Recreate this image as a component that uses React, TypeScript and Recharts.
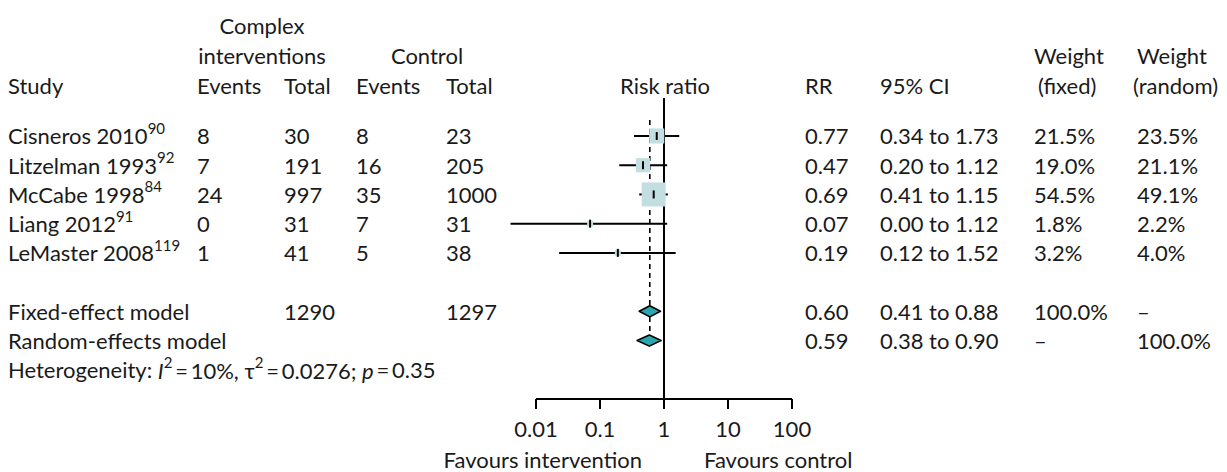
import React from 'react'
import { ComposedChart, XAxis, YAxis, Scatter, ErrorBar, ReferenceLine, ReferenceArea } from 'recharts'

// study level data
const studies = ['Cisneros 2010', 'Litzelman 1993', 'McCabe 1998', 'Liang 2012', 'LeMaster 2008']
const refs = ['90', '92', '84', '91', '119']
const intEvents = [8, 7, 24, 0, 1]
const intTotal = [30, 191, 997, 31, 41]
const ctlEvents = [8, 16, 35, 7, 5]
const ctlTotal = [23, 205, 1000, 31, 38]
const rr = [0.77, 0.47, 0.69, 0.07, 0.19]
const ciLow = ['0.34', '0.20', '0.41', '0.00', '0.12']
const ciHigh = [1.73, 1.12, 1.15, 1.12, 1.52]
// lower ends of the whiskers as they are drawn in the figure
const drawnLow = [0.34, 0.2, 0.41, 0.004, 0.023]
const weightFixed = [21.5, 19.0, 54.5, 1.8, 3.2]
const weightRandom = [23.5, 21.1, 49.1, 2.2, 4.0]

// pooled estimates
const models = ['Fixed-effect model', 'Random-effects model']
const pooledRR = [0.6, 0.59]
const pooledLow = [0.41, 0.38]
const pooledHigh = [0.88, 0.9]
const pooledIntTotal = ['1290', '']
const pooledCtlTotal = ['1297', '']
const pooledWFixed = ['100.0%', '–']
const pooledWRandom = ['–', '100.0%']

const axisTicks = [0.01, 0.1, 1, 10, 100]

const W = 1227
const H = 472
const PLOT_TOP = 98
const PLOT_BOTTOM = 399
const Y_DOMAIN = [-1.3, 9]
const STUDY_ROW0 = 0
const POOLED_ROW0 = 6
const HET_ROW = 8
const FONT = 'Lato, "Open Sans", sans-serif'
const FS = 22
const SUP = 15
const INK = '#1a1a1a'

const rowY = (r: number) =>
  PLOT_TOP + ((r - Y_DOMAIN[0]) / (Y_DOMAIN[1] - Y_DOMAIN[0])) * (PLOT_BOTTOM - PLOT_TOP)

const fmt = (v: number) => v.toFixed(2)

const studyData = studies.map((s, i) => ({
  x: rr[i],
  y: STUDY_ROW0 + i,
  w: weightFixed[i],
  err: [rr[i] - drawnLow[i], ciHigh[i] - rr[i]],
}))

const BoxShape = (props: any) => {
  const { cx, cy, payload } = props
  const s = Math.max(6, 3.25 * Math.sqrt(payload.w))
  return <rect x={cx - s / 2} y={cy - s / 2} width={s} height={s} fill="#c2dee1" />
}

const TickShape = (props: any) => {
  const { cx, cy } = props
  return <line x1={cx} x2={cx} y1={cy - 4} y2={cy + 4} stroke="#000" strokeWidth={2} />
}

const makeDiamond = (i: number) => (p: any) => {
  const { x, y, width, height } = p
  const frac =
    (Math.log(pooledRR[i]) - Math.log(pooledLow[i])) /
    (Math.log(pooledHigh[i]) - Math.log(pooledLow[i]))
  const cx = x + width * frac
  const cy = y + height / 2
  const pts = `${x},${cy} ${cx},${y} ${x + width},${cy} ${cx},${y + height} `
  return <polygon points={pts} fill="#2aa7ae" stroke="#000" strokeWidth={1.6} strokeLinejoin="round" />
}

const DIAMOND_HALF = 0.19

const T = (p: any) => (
  <text fontFamily={FONT} fontSize={FS} fill={INK} dominantBaseline="central" {...p} />
)

function TableText() {
  const cols = { study: 8, ie: 197, it: 284, ce: 356, ct: 446, rr: 805, ci: 880, wf: 1034, wr: 1137 }
  return (
    <svg width={W} height={H} style={{ position: 'absolute', left: 0, top: 0, pointerEvents: 'none' }}>
      {/* headers */}
      <T x={262} y={25} textAnchor="middle">Complex</T>
      <T x={262} y={55} textAnchor="middle">interventions</T>
      <T x={427} y={55} textAnchor="middle">Control</T>
      <T x={cols.study} y={85}>Study</T>
      <T x={cols.ie} y={85}>Events</T>
      <T x={cols.it} y={85}>Total</T>
      <T x={cols.ce} y={85}>Events</T>
      <T x={cols.ct} y={85}>Total</T>
      <T x={665} y={85} textAnchor="middle">Risk ratio</T>
      <T x={cols.rr} y={85}>RR</T>
      <T x={cols.ci} y={85}>95% CI</T>
      <T x={cols.wf} y={55}>Weight</T>
      <T x={cols.wf + 4} y={85}>(fixed)</T>
      <T x={cols.wr} y={55}>Weight</T>
      <T x={cols.wr - 4} y={85}>(random)</T>

      {studies.map((s, i) => {
        const y = rowY(STUDY_ROW0 + i)
        return (
          <g key={s}>
            <T x={cols.study} y={y}>
              {s}
              <tspan fontSize={SUP} dy={-8}>{refs[i]}</tspan>
            </T>
            <T x={cols.ie} y={y}>{intEvents[i]}</T>
            <T x={cols.it} y={y}>{intTotal[i]}</T>
            <T x={cols.ce} y={y}>{ctlEvents[i]}</T>
            <T x={cols.ct} y={y}>{ctlTotal[i]}</T>
            <T x={cols.rr} y={y}>{fmt(rr[i])}</T>
            <T x={cols.ci} y={y}>{`${ciLow[i]} to ${fmt(ciHigh[i])}`}</T>
            <T x={cols.wf} y={y}>{`${weightFixed[i].toFixed(1)}%`}</T>
            <T x={cols.wr} y={y}>{`${weightRandom[i].toFixed(1)}%`}</T>
          </g>
        )
      })}

      {models.map((m, i) => {
        const y = rowY(POOLED_ROW0 + i)
        return (
          <g key={m}>
            <T x={cols.study} y={y}>{m}</T>
            <T x={cols.it} y={y}>{pooledIntTotal[i]}</T>
            <T x={cols.ct} y={y}>{pooledCtlTotal[i]}</T>
            <T x={cols.rr} y={y}>{fmt(pooledRR[i])}</T>
            <T x={cols.ci} y={y}>{`${fmt(pooledLow[i])} to ${fmt(pooledHigh[i])}`}</T>
            <T x={cols.wf} y={y}>{pooledWFixed[i]}</T>
            <T x={cols.wr} y={y}>{pooledWRandom[i]}</T>
          </g>
        )
      })}

      <T x={cols.study} y={rowY(HET_ROW)}>
        Heterogeneity: <tspan fontStyle="italic">I</tspan>
        <tspan fontSize={SUP} dy={-8}>2</tspan>
        <tspan dy={8}>{'\u2009=\u200910%, τ'}</tspan>
        <tspan fontSize={SUP} dy={-8}>2</tspan>
        <tspan dy={8}>{'\u2009=\u20090.0276; '}</tspan>
        <tspan fontStyle="italic">p</tspan>
        {'\u2009=\u20090.35'}
      </T>

      <T x={642} y={459} textAnchor="end">Favours intervention</T>
      <T x={704} y={459}>Favours control</T>
    </svg>
  )
}

export default function App() {
  return (
    <div style={{ position: 'absolute', left: 0, top: 0, width: W, height: H, background: '#fff' }}>
      <ComposedChart
        width={W}
        height={H}
        margin={{ top: PLOT_TOP, right: W - 792, bottom: H - PLOT_BOTTOM - 40, left: 536 }}
      >
        <XAxis
          type="number"
          dataKey="x"
          scale="log"
          domain={[0.01, 100]}
          ticks={axisTicks}
          allowDataOverflow
          height={40}
          axisLine={{ stroke: '#000', strokeWidth: 2 }}
          tickLine={{ stroke: '#000', strokeWidth: 2 }}
          tickSize={10}
          tickMargin={12}
          interval={0}
          tickFormatter={(v: number) => String(v)}
          tick={{ fill: INK, fontSize: FS, fontFamily: FONT }}
        />
        <YAxis type="number" dataKey="y" domain={Y_DOMAIN} reversed hide allowDataOverflow />
        <ReferenceLine x={1} stroke="#000" strokeWidth={2} />
        <ReferenceLine
          segment={[{ x: pooledRR[0], y: -0.55 }, { x: pooledRR[0], y: POOLED_ROW0 - DIAMOND_HALF }]}
          stroke="#000"
          strokeWidth={1.6}
          strokeDasharray="5 4"
        />
        <ReferenceLine
          segment={[{ x: pooledRR[0], y: POOLED_ROW0 + DIAMOND_HALF }, { x: pooledRR[0], y: POOLED_ROW0 + 1 - DIAMOND_HALF }]}
          stroke="#000"
          strokeWidth={1.6}
          strokeDasharray="5 4"
        />
        <Scatter data={studyData} shape={BoxShape} isAnimationActive={false} />
        <Scatter data={studyData} shape={TickShape} isAnimationActive={false}>
          <ErrorBar dataKey="err" direction="x" width={0} stroke="#000" strokeWidth={2} />
        </Scatter>
        {models.map((m, i) => (
          <ReferenceArea
            key={m}
            x1={pooledLow[i]}
            x2={pooledHigh[i]}
            y1={POOLED_ROW0 + i - DIAMOND_HALF}
            y2={POOLED_ROW0 + i + DIAMOND_HALF}
            shape={makeDiamond(i)}
          />
        ))}
      </ComposedChart>
      <TableText />
    </div>
  )
}
